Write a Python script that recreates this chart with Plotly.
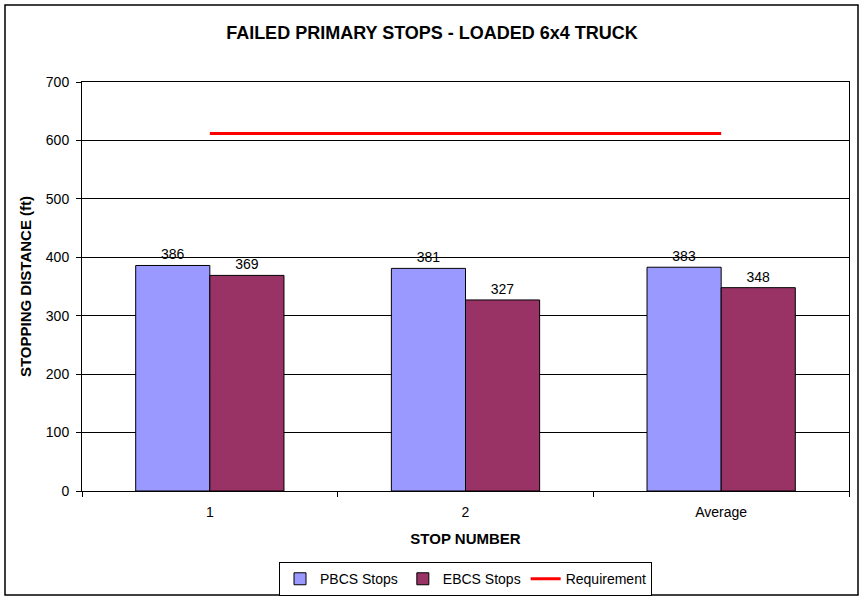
import plotly.graph_objects as go

categories = ["1", "2", "Average"]
pbcs_stops = [386, 381, 383]
ebcs_stops = [369, 327, 348]
requirement = [612, 612, 612]

FONT = "Liberation Sans, Arial, sans-serif"

fig = go.Figure()
fig.add_trace(go.Bar(
    x=categories, y=pbcs_stops, name="PBCS Stops",
    marker=dict(color="#9999FF", line=dict(color="black", width=1)),
    text=[str(v) for v in pbcs_stops], textposition="outside",
    textfont=dict(family=FONT, size=14, color="black"), cliponaxis=False,
))
fig.add_trace(go.Bar(
    x=categories, y=ebcs_stops, name="EBCS Stops",
    marker=dict(color="#993366", line=dict(color="black", width=1)),
    text=[str(v) for v in ebcs_stops], textposition="outside",
    textfont=dict(family=FONT, size=14, color="black"), cliponaxis=False,
))
fig.add_trace(go.Scatter(
    x=categories, y=requirement, name="Requirement", mode="lines",
    line=dict(color="#FF0000", width=3),
))

fig.update_layout(
    width=864, height=600,
    margin=dict(l=82, r=15, t=82, b=109, autoexpand=False),
    paper_bgcolor="white", plot_bgcolor="white",
    font=dict(family=FONT, size=14, color="black"),
    title=dict(text="<b>FAILED PRIMARY STOPS - LOADED 6x4 TRUCK</b>",
               x=0.5, xanchor="center", y=0.945, yanchor="middle",
               font=dict(family=FONT, size=18, color="black")),
    barmode="group", bargap=0.42, bargroupgap=0,
    showlegend=True,
    legend=dict(orientation="h", x=0.5, xanchor="center", y=-0.174, yanchor="top",
                bordercolor="black", borderwidth=1, bgcolor="white",
                font=dict(family=FONT, size=14, color="black"),
                traceorder="normal", itemwidth=30, tracegroupgap=0),
    xaxis=dict(
        type="category", tickson="boundaries", ticks="outside", ticklen=5,
        tickcolor="black", showline=True, linecolor="black", linewidth=1, mirror=True,
        showgrid=False, automargin=False, ticklabelstandoff=8,
        tickfont=dict(family=FONT, size=14, color="black"),
        title=dict(text="<b>STOP NUMBER</b>", font=dict(family=FONT, size=15, color="black"),
                   standoff=14),
    ),
    yaxis=dict(
        range=[0, 700], dtick=100, ticks="outside", ticklen=5, tickcolor="black",
        showline=True, linecolor="black", linewidth=1, mirror=True,
        showgrid=True, gridcolor="black", gridwidth=1, zeroline=False, automargin=False,
        ticklabelstandoff=4,
        tickfont=dict(family=FONT, size=14, color="black"),
        title=dict(text="<b>STOPPING DISTANCE (ft)</b>", font=dict(family=FONT, size=15, color="black"),
                   standoff=10),
    ),
    shapes=[dict(type="rect", xref="paper", yref="paper",
                 x0=(5 - 82) / 767, x1=(858 - 82) / 767,
                 y0=(491 - 595) / 409, y1=(491 - 5) / 409,
                 line=dict(color="black", width=1.5), fillcolor="rgba(0,0,0,0)", layer="below")],
)

fig.write_html("out.html", config={"displayModeBar": False},
               post_script="document.body.style.margin='0';document.body.style.overflow='hidden';")
